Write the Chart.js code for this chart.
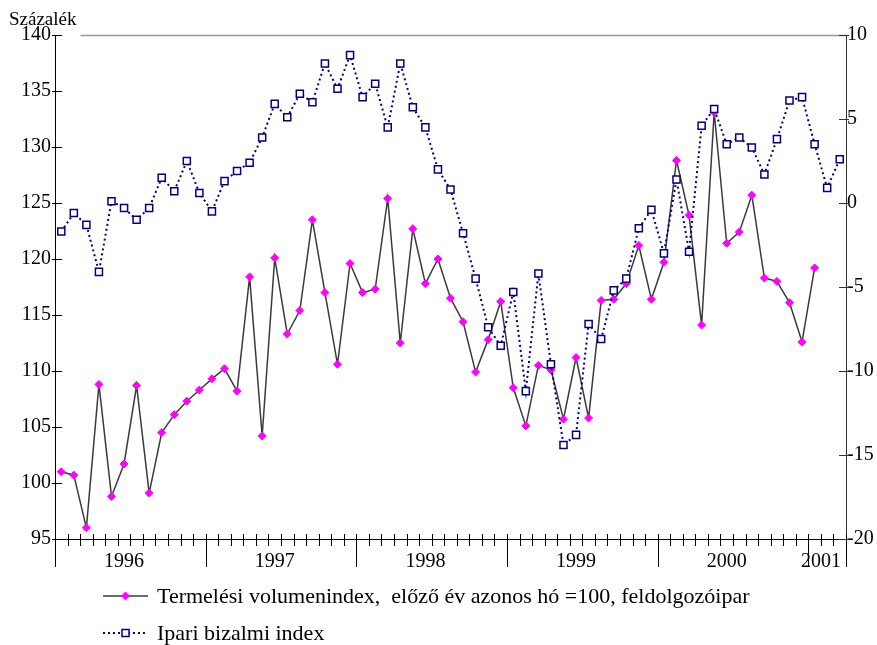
<!DOCTYPE html>
<html>
<head>
<meta charset="utf-8">
<script src="https://cdn.jsdelivr.net/npm/chart.js@4"></script>
<style>
  html, body { margin: 0; padding: 0; background: #fff; }
  canvas { display: block; }
</style>
</head>
<body>
<canvas id="chart" width="877" height="645"></canvas>
<script>
// years shown on the axis and how many months each one has
let years = ['1996', '1997', '1998', '1999', '2000', '2001'];
let monthsInYear = [12, 12, 12, 12, 12, 3];

// Termelési volumenindex (left axis), monthly
let termeles = [
	101.0, 100.7, 96.0, 108.8, 98.8, 101.7, 108.7, 99.1, 104.5, 106.1, 107.3, 108.3,
	109.3, 110.2, 108.2, 118.4, 104.2, 120.1, 113.3, 115.4, 123.5, 117.0, 110.6, 119.6,
	117.0, 117.3, 125.4, 112.5, 122.7, 117.8, 120.0, 116.5, 114.4, 109.9, 112.8, 116.2,
	108.5, 105.1, 110.5, 110.1, 105.7, 111.2, 105.8, 116.3, 116.4, 117.8, 121.2, 116.4,
	119.7, 128.8, 123.9, 114.1, 133.1, 121.4, 122.4, 125.7, 118.3, 118.0, 116.1, 112.6,
	119.2, null, null
];

// Ipari bizalmi index (right axis), monthly
let bizalmi = [
	-1.7, -0.6, -1.3, -4.1, 0.1, -0.3, -1.0, -0.3, 1.5, 0.7, 2.5, 0.6,
	-0.5, 1.3, 1.9, 2.4, 3.9, 5.9, 5.1, 6.5, 6.0, 8.3, 6.8, 8.8,
	6.3, 7.1, 4.5, 8.3, 5.7, 4.5, 2.0, 0.8, -1.8, -4.5, -7.4, -8.5,
	-5.3, -11.2, -4.2, -9.6, -14.4, -13.8, -7.2, -8.1, -5.2, -4.5, -1.5, -0.4,
	-3.0, 1.4, -2.9, 4.6, 5.6, 3.5, 3.9, 3.3, 1.7, 3.8, 6.1, 6.3,
	3.5, 0.9, 2.6
];

let seriesNames = ['Termelési volumenindex,  előző év azonos hó =100, feldolgozóipar', 'Ipari bizalmi index'];
let unitLabel = 'Százalék';

let labels = [];
years.forEach((y, i) => {
	for (let m = 1; m <= monthsInYear[i]; m++) labels.push(y + '.' + String(m).padStart(2, '0'));
});

let font = 'Liberation Serif';

// ticks, year labels, unit title, top border and legend (Excel look)
let decor = {
	id: 'decor',
	afterDatasetsDraw(chart) {
		let ctx = chart.ctx;
		let area = chart.chartArea;
		let x = chart.scales.x, y = chart.scales.y, y2 = chart.scales.y2;
		ctx.save();

		// unit title + gray top border
		ctx.font = '19px "' + font + '"';
		ctx.fillStyle = '#000';
		ctx.textAlign = 'left';
		ctx.textBaseline = 'middle';
		ctx.fillText(unitLabel, 9, area.top - 15);
		let tw = ctx.measureText(unitLabel).width;
		ctx.strokeStyle = '#999';
		ctx.lineWidth = 1.5;
		ctx.beginPath();
		ctx.moveTo(9 + tw + 4, area.top + 0.5);
		ctx.lineTo(area.right, area.top + 0.5);
		ctx.stroke();

		// value axis tick marks
		ctx.lineWidth = 1;
		ctx.strokeStyle = '#000';
		ctx.beginPath();
		y.ticks.forEach(t => {
			let p = Math.round(y.getPixelForValue(t.value)) + 0.5;
			ctx.moveTo(area.left - 3, p);
			ctx.lineTo(area.left + 7, p);
		});
		ctx.stroke();
		ctx.strokeStyle = '#333';
		ctx.beginPath();
		y2.ticks.forEach(t => {
			let p = Math.round(y2.getPixelForValue(t.value)) + 0.5;
			ctx.moveTo(area.right - 7, p);
			ctx.lineTo(area.right + 3, p);
		});
		ctx.stroke();

		// month ticks, long ones at year boundaries
		ctx.strokeStyle = '#000';
		ctx.beginPath();
		let yearStarts = [0];
		monthsInYear.forEach((n, i) => yearStarts.push(yearStarts[i] + n));
		for (let i = 0; i <= labels.length; i++) {
			let p = Math.round(x.getPixelForValue(i - 0.5)) + 0.5;
			let long = yearStarts.includes(i);
			ctx.moveTo(p, area.bottom - 5);
			ctx.lineTo(p, area.bottom + (long ? 28 : 7));
		}
		ctx.stroke();

		// year labels
		ctx.font = '20px "' + font + '"';
		ctx.textAlign = 'center';
		years.forEach((yr, i) => {
			let mid = yearStarts[i] + (monthsInYear[i] - 1) / 2 - 0.5;
			ctx.fillText(yr, x.getPixelForValue(mid), area.bottom + 23);
		});

		// legend
		ctx.font = '22px "' + font + '"';
		ctx.textAlign = 'left';
		chart.data.datasets.forEach((ds, i) => {
			let ly = area.bottom + 57 + i * 37;
			let x0 = area.left + 48, x1 = area.left + 93;
			ctx.save();
			ctx.strokeStyle = ds.borderColor;
			ctx.lineWidth = ds.borderWidth;
			ctx.setLineDash(ds.borderDash || []);
			ctx.beginPath();
			ctx.moveTo(x0, ly);
			ctx.lineTo(x1, ly);
			ctx.stroke();
			ctx.restore();
			ctx.save();
			ctx.fillStyle = ds.pointBackgroundColor;
			ctx.strokeStyle = ds.pointBorderColor;
			ctx.lineWidth = ds.pointBorderWidth;
			Chart.helpers.drawPoint(ctx, {
				pointStyle: ds.pointStyle,
				radius: ds.pointRadius,
				borderWidth: ds.pointBorderWidth,
				rotation: 0
			}, (x0 + x1) / 2, ly);
			ctx.restore();
			ctx.fillStyle = '#000';
			ctx.fillText(ds.label, area.left + 102, ly + 1);
		});
		ctx.restore();
	}
};

new Chart(document.querySelector('#chart'), {
	type: 'line',
	data: {
		labels: labels,
		datasets: [
			{
				label: seriesNames[0],
				data: termeles,
				yAxisID: 'y',
				borderColor: '#3a3a3a',
				borderWidth: 1.5,
				tension: 0,
				pointStyle: 'rectRot',
				pointRadius: 4,
				pointBorderWidth: 1,
				pointBackgroundColor: '#ff00ff',
				pointBorderColor: '#ff00ff',
				order: 1
			},
			{
				label: seriesNames[1],
				data: bizalmi,
				yAxisID: 'y2',
				borderColor: '#000080',
				borderWidth: 2,
				borderDash: [2, 3],
				tension: 0,
				pointStyle: 'rect',
				pointRadius: 5,
				pointBorderWidth: 1.5,
				pointBackgroundColor: '#ffffff',
				pointBorderColor: '#000080',
				order: 0
			}
		]
	},
	options: {
		responsive: false,
		devicePixelRatio: 1,
		animation: false,
		layout: { padding: { top: 35, left: 0, right: 0, bottom: 0 } },
		plugins: {
			legend: { display: false },
			tooltip: { enabled: false }
		},
		scales: {
			x: {
				type: 'category',
				offset: true,
				grid: { display: false, drawTicks: false },
				border: { display: true, color: '#000', width: 1 },
				ticks: { display: false },
				afterFit: s => { s.height = 106; }
			},
			y: {
				position: 'left',
				min: 95,
				max: 140,
				grid: { display: false, drawTicks: false },
				border: { display: true, color: '#000', width: 1 },
				ticks: { stepSize: 5, padding: 4, color: '#000', font: { family: font, size: 20 } },
				afterFit: s => { s.width = 55; }
			},
			y2: {
				position: 'right',
				min: -20,
				max: 10,
				grid: { display: false, drawTicks: false },
				border: { display: true, color: '#333', width: 1 },
				ticks: { stepSize: 5, padding: 1, color: '#000', font: { family: font, size: 20 } },
				afterFit: s => { s.width = 31; }
			}
		}
	},
	plugins: [decor]
});
</script>
</body>
</html>
